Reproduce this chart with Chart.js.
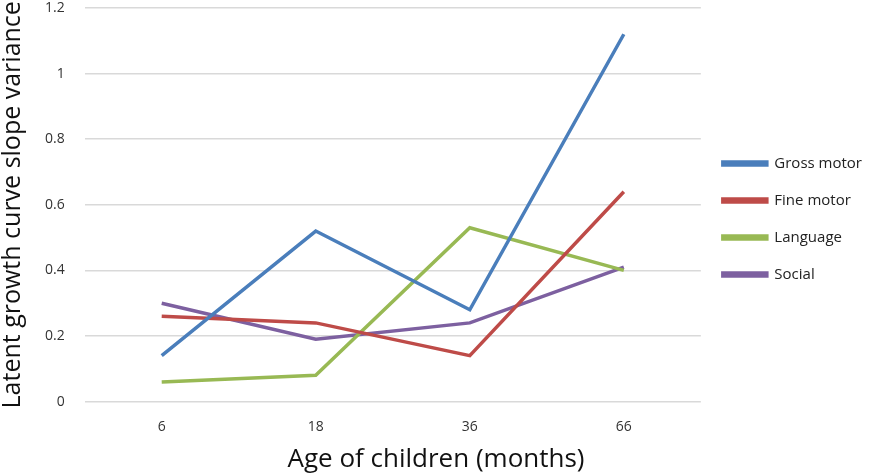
<!DOCTYPE html>
<html>
<head>
<meta charset="utf-8">
<script src="https://cdn.jsdelivr.net/npm/chart.js@4.4.0/dist/chart.umd.min.js"></script>
<style>
  html, body { margin:0; padding:0; background:#fff; }
  #wrap { width:872px; height:476px; }
</style>
</head>
<body>
<div id="wrap"><canvas id="c" width="872" height="476"></canvas></div>
<script>
// ages (months)
var ages = ["6", "18", "36", "66"];
var grossMotor = [0.14, 0.52, 0.28, 1.12];
var fineMotor  = [0.26, 0.24, 0.14, 0.64];
var language   = [0.06, 0.08, 0.53, 0.40];
var social     = [0.30, 0.19, 0.24, 0.41];
var yTicks = [0, 0.2, 0.4, 0.6, 0.8, 1, 1.2];

var seriesNames  = ["Gross motor", "Fine motor", "Language", "Social"];
var seriesColors = ["#4a7ebb", "#be4b48", "#98b954", "#7d60a0"];
var seriesData   = [grossMotor, fineMotor, language, social];

function makeSets(){
    var sets = [];
    for(var i=0;i<seriesData.length;i++){
        sets.push({
            label : seriesNames[i],
            data : seriesData[i],
            borderColor : seriesColors[i],
            backgroundColor : seriesColors[i],
            borderWidth : 3.5,
            pointRadius : 0,
            tension : 0,
            fill : false
        });
    }
    return sets;
}

var font = "'Open Sans', 'Liberation Sans', sans-serif";

// move the legend block up a bit (excel puts it above the middle)
var legendShift = {
    id : "legendShift",
    afterLayout : function(chart){
        if(chart.legend){ chart.legend.bottom -= 44; }
    }
};

var ctx = document.getElementById("c").getContext("2d");
var chart = new Chart(ctx, {
    type : "line",
    data : { labels : ages, datasets : makeSets() },
    plugins : [legendShift],
    options : {
        responsive : false,
        animation : false,
        layout : { padding : { top : 8, right : 0, left : 0, bottom : 2 } },
        plugins : {
            tooltip : { enabled : false },
            title : {
                display : true, position : "bottom",
                text : "Age of children (months)",
                color : "#111", font : { family : font, size : 26, weight : "normal", lineHeight : 1.1 },
                padding : { top : 1, bottom : 0 }
            },
            legend : {
                position : "right",
                labels : {
                    boxWidth : 44,
                    boxHeight : 3,
                    padding : 22,
                    color : "#222",
                    font : { family : font, size : 15 }
                }
            }
        },
        scales : {
            x : {
                offset : true,
                grid : { display : false },
                border : { display : false },
                ticks : { color : "#333", font : { family : font, size : 14 }, padding : 9 }
            },
            y : {
                min : 0, max : 1.2,
                afterBuildTicks : function(axis){
                    axis.ticks = yTicks.map(function(v){ return { value : v }; });
                },
                afterFit : function(s){ s.paddingTop = 0; s.paddingBottom = 0; },
                grid : { color : "#d9d9d9", lineWidth : 1.5, drawTicks : false },
                border : { display : false },
                ticks : {
                    color : "#333", font : { family : font, size : 14 }, padding : 20,
                    callback : function(v){ return String(Math.round(v*10)/10); }
                },
                title : {
                    display : true, text : "Latent growth curve slope variance",
                    color : "#111", font : { family : font, size : 25, lineHeight : 1 }, padding : 0
                }
            }
        }
    }
});
</script>
</body>
</html>
